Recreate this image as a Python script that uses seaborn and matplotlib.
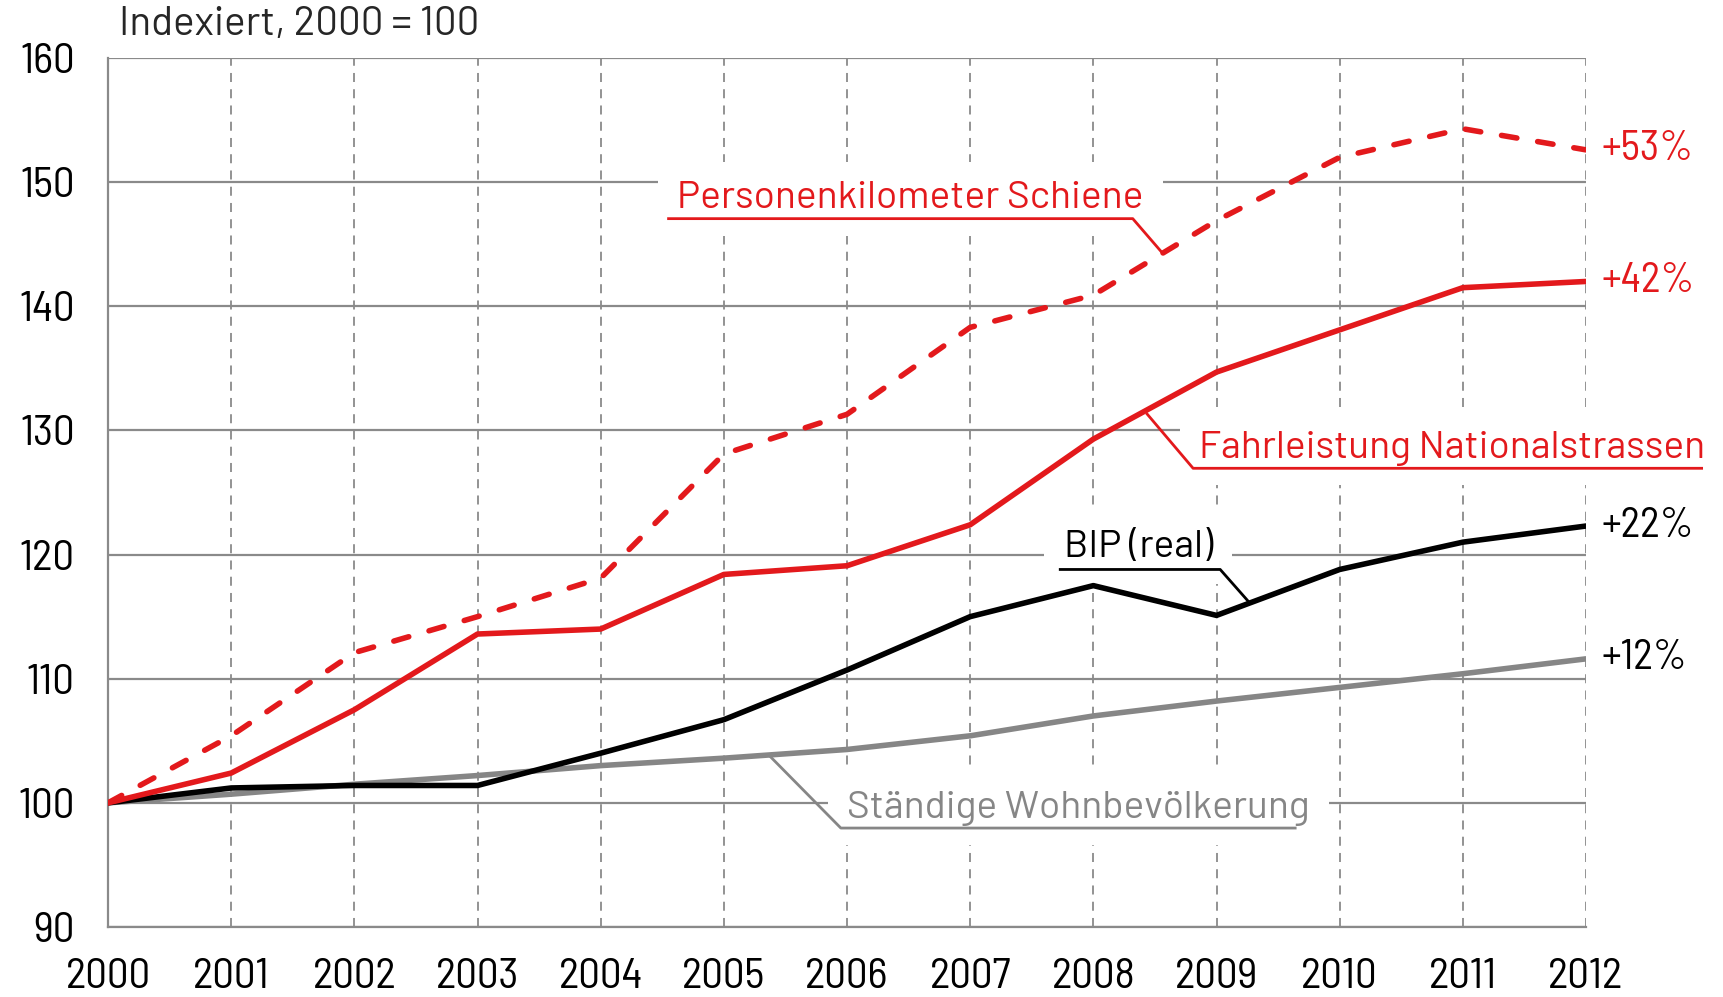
import numpy as np
import pandas as pd
import matplotlib
matplotlib.use("Agg")
import matplotlib.pyplot as plt
from matplotlib import font_manager as fm
import seaborn as sns

# ------------------------------------------------------
# Data (indexiert, 2000 = 100)
# ------------------------------------------------------

years = list(range(2000, 2013))

schiene = [100, 105.4, 112.1, 115.0, 118.1, 128.1, 131.3, 138.3, 140.9, 146.9, 152.0, 154.3, 152.6]
strassen = [100, 102.4, 107.5, 113.6, 114.0, 118.4, 119.1, 122.4, 129.3, 134.7, 138.1, 141.5, 142.0]
bip = [100, 101.2, 101.4, 101.4, 104.0, 106.7, 110.7, 115.0, 117.5, 115.1, 118.8, 121.0, 122.3]
bevoelkerung = [100, 100.7, 101.5, 102.2, 103.0, 103.6, 104.3, 105.4, 107.0, 108.2, 109.3, 110.4, 111.6]

end_labels = ["+53%", "+42%", "+22%", "+12%"]

RED = "#e3191c"
GREY = "#868686"
GRID = "#8a8a8a"

sns.set_style("white")

# DIN-like faces if they are around
installed = {f.name for f in fm.fontManager.ttflist}
narrow = next((f for f in ["Barlow Semi Condensed", "Barlow Condensed", "Roboto Condensed",
                           "Archivo Narrow"] if f in installed), "DejaVu Sans")
wide = "Barlow" if "Barlow" in installed else narrow
plt.rcParams["font.family"] = [narrow, "DejaVu Sans"]

fig = plt.figure(figsize=(17.23, 9.97), dpi=100)
ax = fig.add_axes([108 / 1723, 70 / 997, (1586 - 108) / 1723, (927 - 58) / 997])

# ------------------------------------------------------
# Lines
# ------------------------------------------------------

sns.lineplot(x=years, y=bevoelkerung, ax=ax, color=GREY, lw=4, zorder=3)
sns.lineplot(x=years, y=bip, ax=ax, color="black", lw=4, zorder=3)
sns.lineplot(x=years, y=strassen, ax=ax, color=RED, lw=4, zorder=3)
sns.lineplot(x=years, y=schiene, ax=ax, color=RED, lw=4, zorder=3)
ax.lines[-1].set_dashes((2.8, 3.8))
ax.lines[-1].set_dash_capstyle("round")

# ------------------------------------------------------
# Axes styling
# ------------------------------------------------------

ax.set_xlim(2000, 2012)
ax.set_ylim(90, 160)
ax.set_xticks(years)
ax.set_yticks(range(90, 161, 10))
ax.set_axisbelow(True)
ax.grid(axis="y", color=GRID, lw=1.6, ls="-")
ax.grid(axis="x", color=GRID, lw=1.3, ls=(0, (5, 4)))
for side in ["top", "right"]:
    ax.spines[side].set_visible(False)
for side in ["left", "bottom"]:
    ax.spines[side].set_color(GRID)
    ax.spines[side].set_linewidth(1.6)
ax.tick_params(axis="both", colors=GRID, length=9, width=1.5, labelcolor="black", labelsize=31)
ax.tick_params(axis="y", pad=15)
ax.tick_params(axis="x", pad=13)

fig.text(119 / 1723, 1 - 24 / 997, "Indexiert, 2000 = 100", fontsize=29, family=wide,
         va="center", ha="left")

# ------------------------------------------------------
# Series labels with leader lines
# ------------------------------------------------------

box = dict(boxstyle="square,pad=0.5", fc="white", ec="none")


def label(text, x, y, color, under, leader_end):
    ax.text(x, y, text, color=color, fontsize=28, family=wide, ha="left", va="baseline",
            bbox=box, zorder=2.5, clip_on=False)
    x0, x1, yu = under
    near, far = (x1, x0) if leader_end[0] > x1 else (x0, x1)
    ax.plot([leader_end[0], near, far], [leader_end[1], yu, yu], color=color, lw=2,
            zorder=2.6, clip_on=False, solid_capstyle="butt")


label("Personenkilometer Schiene", 2004.62, 147.9, RED, (2004.54, 2008.32, 147.06), (2008.56, 144.3))
label("Fahrleistung Nationalstrassen", 2008.86, 127.8, RED, (2008.81, 2012.95, 126.95), (2008.43, 131.4))
label("BIP (real)", 2007.76, 119.8, "black", (2007.72, 2009.03, 118.8), (2009.27, 116.1))
label("Ständige Wohnbevölkerung", 2006.0, 98.8, GREY, (2005.95, 2009.65, 97.97), (2005.37, 103.8))

# end-of-line percentages
for txt, series, col in zip(end_labels, [schiene, strassen, bip, bevoelkerung],
                            [RED, RED, "black", "black"]):
    ax.annotate(txt, xy=(years[-1], series[-1]), xytext=(11, 0), textcoords="offset points",
                color=col, fontsize=30, va="center", ha="left", annotation_clip=False)

fig.savefig("out.png", dpi=100)
